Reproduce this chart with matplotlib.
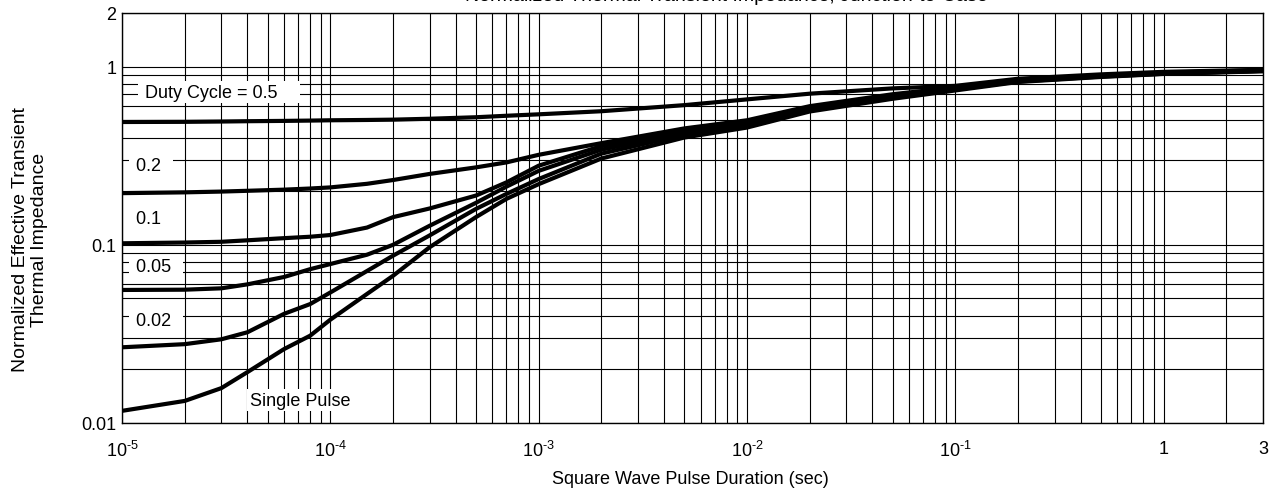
import matplotlib
matplotlib.use('Agg')
import matplotlib.pyplot as plt
from matplotlib.ticker import FixedLocator, FixedFormatter, LogLocator, NullFormatter

plt.rcParams['font.family'] = ['Liberation Sans', 'DejaVu Sans']
plt.rcParams['mathtext.fontset'] = 'custom'
plt.rcParams['mathtext.rm'] = 'Liberation Sans'
plt.rcParams['mathtext.default'] = 'regular'

# ---------------- data ----------------
pulse_duration = [1e-5, 2e-5, 3e-5, 4e-5, 6e-5, 8e-5, 1e-4, 1.5e-4, 2e-4, 3e-4,
                  5e-4, 7e-4, 1e-3, 2e-3, 5e-3, 1e-2, 2e-2, 5e-2, 1e-1, 2e-1,
                  5e-1, 1.0, 3.0]

z_duty_05 = [0.489, 0.490, 0.492, 0.494, 0.496, 0.498, 0.500, 0.502, 0.504, 0.510,
             0.520, 0.530, 0.540, 0.562, 0.608, 0.655, 0.705, 0.755, 0.780, 0.855,
             0.905, 0.935, 0.960]
z_duty_02 = [0.195, 0.197, 0.199, 0.201, 0.204, 0.207, 0.210, 0.220, 0.231, 0.250,
             0.272, 0.290, 0.320, 0.372, 0.450, 0.500, 0.600, 0.700, 0.765, 0.840,
             0.895, 0.925, 0.955]
z_duty_01 = [0.102, 0.103, 0.104, 0.106, 0.109, 0.111, 0.1135, 0.125, 0.143, 0.160,
             0.189, 0.224, 0.278, 0.358, 0.435, 0.490, 0.590, 0.690, 0.755, 0.835,
             0.890, 0.920, 0.950]
z_duty_005 = [0.0558, 0.0560, 0.0570, 0.0600, 0.0660, 0.0730, 0.0780, 0.0880, 0.100, 0.128,
              0.172, 0.212, 0.260, 0.342, 0.425, 0.480, 0.580, 0.680, 0.750, 0.830,
              0.885, 0.915, 0.948]
z_duty_002 = [0.0266, 0.0277, 0.0295, 0.0323, 0.0410, 0.0465, 0.0540, 0.0713, 0.0869, 0.113,
              0.159, 0.193, 0.234, 0.325, 0.415, 0.470, 0.570, 0.670, 0.745, 0.825,
              0.880, 0.912, 0.945]
z_single = [0.0117, 0.0133, 0.0157, 0.0193, 0.0260, 0.0309, 0.0380, 0.0530, 0.0670, 0.097,
            0.143, 0.181, 0.219, 0.305, 0.400, 0.455, 0.560, 0.660, 0.735, 0.820,
            0.875, 0.910, 0.942]

series = [z_duty_05, z_duty_02, z_duty_01, z_duty_005, z_duty_002, z_single]
series_labels = ['Duty Cycle = 0.5', '0.2', '0.1', '0.05', '0.02', 'Single Pulse']

x_tick_values = [1e-5, 1e-4, 1e-3, 1e-2, 1e-1, 1.0, 3.0]
x_tick_labels = [r'$10^{\text{-5}}$', r'$10^{\text{-4}}$', r'$10^{\text{-3}}$',
                 r'$10^{\text{-2}}$', r'$10^{\text{-1}}$', '1', '3']
y_tick_values = [0.01, 0.1, 1.0, 2.0]
y_tick_labels = ['0.01', '0.1', '1', '2']

title_text = 'Normalized Thermal Transient Impedance, Junction-to-Case'
x_label = 'Square Wave Pulse Duration (sec)'
y_label = 'Normalized Effective Transient\nThermal Impedance'

# ---------------- layout (label anchor positions in data coords) ----------------
label_pos = [(1.22e-5, 0.72), (1.105e-5, 0.28), (1.105e-5, 0.141),
             (1.105e-5, 0.076), (1.105e-5, 0.0374), (4.1e-5, 0.01346)]
label_str = [' Duty Cycle = 0.5    ', ' 0.2  ', ' 0.1  ', ' 0.05  ', ' 0.02  ', 'Single Pulse']

W, H = 1273, 489
fig = plt.figure(figsize=(W / 100, H / 100), dpi=100)
ax = fig.add_axes([122 / W, (H - 424) / H, (1263 - 122) / W, 410 / H])

ax.set_xscale('log')
ax.set_yscale('log')
ax.set_xlim(1e-5, 3.0)
ax.set_ylim(0.01, 2.0)

for ys in series:
    ax.plot(pulse_duration, ys, color='black', lw=3.0, solid_joinstyle='round',
            solid_capstyle='butt', zorder=3)

ax.xaxis.set_major_locator(FixedLocator(x_tick_values))
ax.xaxis.set_major_formatter(FixedFormatter(x_tick_labels))
ax.xaxis.set_minor_locator(LogLocator(base=10, subs=[2, 3, 4, 5, 6, 7, 8, 9], numticks=30))
ax.xaxis.set_minor_formatter(NullFormatter())
ax.yaxis.set_major_locator(FixedLocator(y_tick_values))
ax.yaxis.set_major_formatter(FixedFormatter(y_tick_labels))
ax.yaxis.set_minor_locator(LogLocator(base=10, subs=[2, 3, 4, 5, 6, 7, 8, 9], numticks=30))
ax.yaxis.set_minor_formatter(NullFormatter())

ax.grid(which='both', color='black', lw=0.8, zorder=1)
ax.set_axisbelow(True)
ax.tick_params(which='both', length=0, labelsize=13, colors='black')
ax.tick_params(axis='x', pad=12)
ax.tick_params(axis='y', pad=4)
for s in ax.spines.values():
    s.set_color('black')
    s.set_linewidth(1.0)

for (lx, ly), txt in zip(label_pos, label_str):
    ax.text(lx, ly, txt, ha='left', va='center', fontsize=13, zorder=5,
            bbox=dict(boxstyle='square,pad=0.12', fc='white', ec='none'))

fig.text(30 / W, 1 - 240 / H, y_label, rotation=90, ha='center', va='center',
         fontsize=14, linespacing=1.2, multialignment='center')
fig.text(690 / W, 1 - 480 / H, x_label, ha='center', va='center', fontsize=13)
fig.text(726 / W, 1 - 1.0 / H, title_text, ha='center', va='baseline', fontsize=14)

fig.savefig('out.png', dpi=100)
